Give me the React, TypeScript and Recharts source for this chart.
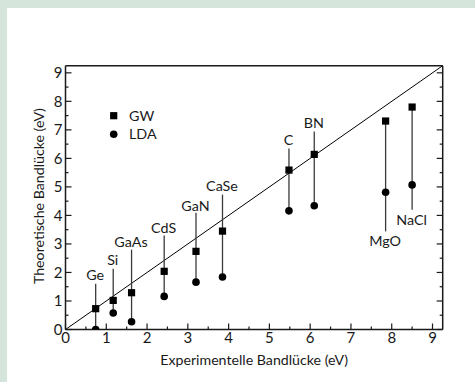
import React from 'react';
import {
  ComposedChart,
  XAxis,
  YAxis,
  Scatter,
  ReferenceLine,
  Legend,
} from 'recharts';

// ---- data ----
const materials = ['Ge', 'Si', 'GaAs', 'CdS', 'GaN', 'CaSe', 'C', 'BN', 'MgO', 'NaCl'];
const experimental = [0.74, 1.17, 1.62, 2.42, 3.2, 3.85, 5.48, 6.1, 7.85, 8.5];
const gwValues = [0.73, 1.02, 1.29, 2.04, 2.74, 3.45, 5.59, 6.14, 7.31, 7.8];
const ldaValues = [0.0, 0.58, 0.27, 1.16, 1.66, 1.84, 4.16, 4.34, 4.81, 5.07];
// far end of the vertical connector (towards the label)
const connectorEnd = [1.6, 2.13, 2.8, 3.3, 4.09, 4.73, 6.35, 6.94, 3.44, 4.2];
// label anchor value (baseline for labels above, top for labels below)
const labelValue = [1.72, 2.25, 2.91, 3.39, 4.17, 4.84, 6.48, 7.08, 3.27, 4.02];
const labelBelow = [false, false, false, false, false, false, false, false, true, true];

const allTicks = [0, 0.5, 1, 1.5, 2, 2.5, 3, 3.5, 4, 4.5, 5, 5.5, 6, 6.5, 7, 7.5, 8, 8.5, 9];
const axisMax = 9.25;

const xTitle = 'Experimentelle Bandlücke (eV)';
const yTitle = 'Theoretische Bandlücke (eV)';

const gwData = materials.map((m, i) => ({ name: m, x: experimental[i], y: gwValues[i] }));
const ldaData = materials.map((m, i) => ({ name: m, x: experimental[i], y: ldaValues[i] }));
const labelData = materials.map((m, i) => ({
  name: m,
  x: experimental[i],
  y: labelValue[i],
  below: labelBelow[i],
}));
const segments = materials.map((m, i) => {
  const start = labelBelow[i] ? gwValues[i] : ldaValues[i];
  return { name: m, x: experimental[i], y1: start, y2: connectorEnd[i] };
});

const FONT = 'Lato, "Open Sans", sans-serif';
const INK = '#1a1a1a';
const MAJOR = 6;
const MINOR = 3;

const isMajor = (v: number) => Math.abs(v - Math.round(v)) < 1e-6;

const BottomTick = (props: any) => {
  const { x, y, payload } = props;
  const v = payload.value;
  const len = isMajor(v) ? MAJOR : MINOR;
  return (
    <g>
      <line x1={x} x2={x} y1={y} y2={y - len} stroke={INK} strokeWidth={1.2} />
      {isMajor(v) && (
        <text x={x} y={y + 13.5} textAnchor="middle" fontSize={15} fontFamily={FONT} fill={INK}>
          {v}
        </text>
      )}
    </g>
  );
};

const TopTick = (props: any) => {
  const { x, y, payload } = props;
  const len = isMajor(payload.value) ? MAJOR : MINOR;
  return <line x1={x} x2={x} y1={y} y2={y + len} stroke={INK} strokeWidth={1.2} />;
};

const LeftTick = (props: any) => {
  const { x, y, payload } = props;
  const v = payload.value;
  const len = isMajor(v) ? MAJOR : MINOR;
  return (
    <g>
      <line x1={x} x2={x + len} y1={y} y2={y} stroke={INK} strokeWidth={1.2} />
      {isMajor(v) && (
        <text x={x - 3} y={y + 5.5} textAnchor="end" fontSize={15} fontFamily={FONT} fill={INK}>
          {v}
        </text>
      )}
    </g>
  );
};

const RightTick = (props: any) => {
  const { x, y, payload } = props;
  const len = isMajor(payload.value) ? MAJOR : MINOR;
  return <line x1={x} x2={x - len} y1={y} y2={y} stroke={INK} strokeWidth={1.2} />;
};

const SquareShape = (props: any) => {
  const { cx, cy } = props;
  return <rect x={cx - 3.6} y={cy - 3.6} width={7.2} height={7.2} fill="#000" />;
};

const CircleShape = (props: any) => {
  const { cx, cy } = props;
  return <circle cx={cx} cy={cy} r={3.8} fill="#000" />;
};

const LabelShape = (props: any) => {
  const { cx, cy, payload } = props;
  const below = payload && payload.below;
  return (
    <text
      x={cx - 0.5}
      y={below ? cy + 10 : cy}
      textAnchor="middle"
      fontSize={14.3}
      fontFamily={FONT}
      fill={INK}
    >
      {payload ? payload.name : ''}
    </text>
  );
};

const XTitle = (props: any) => {
  const vb = props.viewBox || {};
  return (
    <text
      x={vb.x + vb.width / 2}
      y={vb.y + 35}
      textAnchor="middle"
      fontSize={14.2}
      fontFamily={FONT}
      fill={INK}
    >
      {xTitle}
    </text>
  );
};

const YTitle = (props: any) => {
  const vb = props.viewBox || {};
  const cx = vb.x + 24;
  const cy = vb.y + vb.height / 2 - 1.5;
  return (
    <text
      x={cx}
      y={cy}
      transform={`rotate(-90 ${cx} ${cy})`}
      textAnchor="middle"
      fontSize={14.2}
      fontFamily={FONT}
      fill={INK}
    >
      {yTitle}
    </text>
  );
};

const LegendContent = () => (
  <svg width={60} height={40} style={{ display: 'block' }}>
    <rect x={6.7 - 3.6} y={7.7 - 3.6} width={7.2} height={7.2} fill="#000" />
    <text x={22} y={13} fontSize={14.3} fontFamily={FONT} fill={INK}>GW</text>
    <circle cx={6.7} cy={26.3} r={3.8} fill="#000" />
    <text x={22} y={31} fontSize={14.3} fontFamily={FONT} fill={INK}>LDA</text>
  </svg>
);

export default function App() {
  return (
    <div
      style={{
        position: 'absolute',
        left: 0,
        top: 0,
        width: 475,
        height: 382,
        background: '#d5e5dc',
        overflow: 'hidden',
      }}
    >
      <div
        style={{
          position: 'absolute',
          left: 7,
          top: 8,
          width: 468,
          height: 374,
          background: '#ffffff',
        }}
      >
        <ComposedChart
          width={468}
          height={374}
          margin={{ top: 57.7, right: 32.3, bottom: 12.5, left: 13.5 }}
        >
          <XAxis
            xAxisId="x"
            type="number"
            dataKey="x"
            domain={[0, axisMax]}
            allowDataOverflow
            ticks={allTicks}
            interval={0}
            tickSize={0}
            tickMargin={0}
            tickLine={false}
            tick={<BottomTick />}
            axisLine={{ stroke: INK, strokeWidth: 1.5 }}
            height={40}
            label={<XTitle />}
          />
          <XAxis
            xAxisId="top"
            orientation="top"
            mirror
            type="number"
            domain={[0, axisMax]}
            allowDataOverflow
            ticks={allTicks}
            interval={0}
            tickSize={0}
            tickMargin={0}
            tickLine={false}
            tick={<TopTick />}
            axisLine={{ stroke: INK, strokeWidth: 1.5 }}
            height={10}
          />
          <YAxis
            yAxisId="y"
            type="number"
            dataKey="y"
            domain={[0, axisMax]}
            allowDataOverflow
            ticks={allTicks}
            interval={0}
            tickSize={0}
            tickMargin={0}
            tickLine={false}
            tick={<LeftTick />}
            axisLine={{ stroke: INK, strokeWidth: 1.5 }}
            width={45}
            label={<YTitle />}
          />
          <YAxis
            yAxisId="right"
            orientation="right"
            mirror
            type="number"
            domain={[0, axisMax]}
            allowDataOverflow
            ticks={allTicks}
            interval={0}
            tickSize={0}
            tickMargin={0}
            tickLine={false}
            tick={<RightTick />}
            axisLine={{ stroke: INK, strokeWidth: 1.5 }}
            width={10}
          />

          <ReferenceLine
            xAxisId="x"
            yAxisId="y"
            segment={[
              { x: 0, y: 0 },
              { x: axisMax, y: axisMax },
            ]}
            stroke="#000"
            strokeWidth={1}
            ifOverflow="visible"
          />
          {segments.map((s) => (
            <ReferenceLine
              key={s.name}
              xAxisId="x"
              yAxisId="y"
              segment={[
                { x: s.x, y: s.y1 },
                { x: s.x, y: s.y2 },
              ]}
              stroke="#3a3a3a"
              strokeWidth={1.3}
              ifOverflow="visible"
            />
          ))}

          <Scatter
            name="GW"
            xAxisId="x"
            yAxisId="y"
            data={gwData}
            shape={<SquareShape />}
            isAnimationActive={false}
          />
          <Scatter
            name="LDA"
            xAxisId="x"
            yAxisId="y"
            data={ldaData}
            shape={<CircleShape />}
            isAnimationActive={false}
          />
          <Scatter
            name="labels"
            xAxisId="x"
            yAxisId="y"
            data={labelData}
            shape={<LabelShape />}
            isAnimationActive={false}
            legendType="none"
          />
          <Legend
            layout="vertical"
            align="center"
            verticalAlign="middle"
            content={<LegendContent />}
            wrapperStyle={{ left: 100, top: 100, width: 60, height: 40 }}
          />
        </ComposedChart>
      </div>
    </div>
  );
}
